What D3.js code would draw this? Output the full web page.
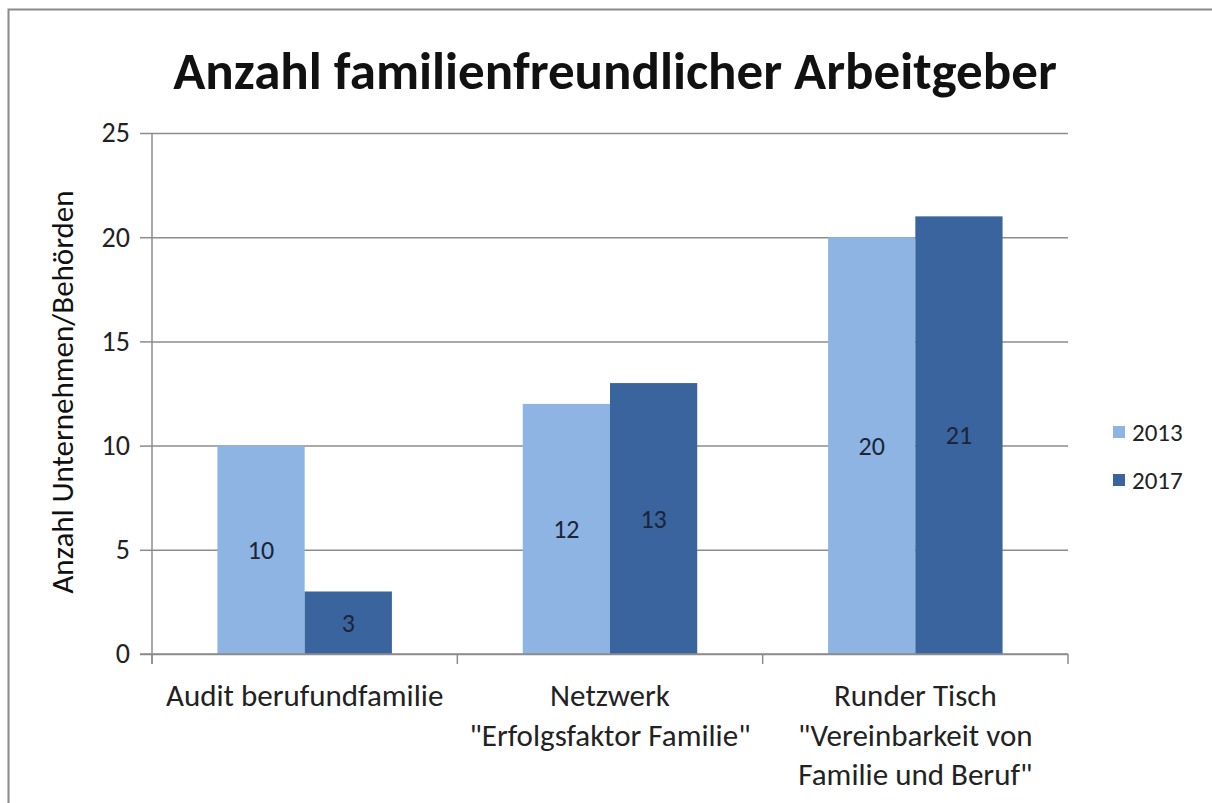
<!DOCTYPE html>
<html>
<head>
<meta charset="utf-8">
<script src="https://cdn.jsdelivr.net/npm/d3@7"></script>
<style>
  body { margin: 0; background: #fff; }
  svg text { font-family: Calibri, Carlito, Lato, "Open Sans", sans-serif; }
</style>
</head>
<body>
<div id="chart"></div>
<script>
const categories = [
  ['Audit berufundfamilie'],
  ['Netzwerk', '"Erfolgsfaktor Familie"'],
  ['Runder Tisch', '"Vereinbarkeit von', 'Familie und Beruf"']
]
const seriesNames = ['2013', '2017']
const values2013 = [10, 12, 20]
const values2017 = [3, 13, 21]
const yTicks = [0, 5, 10, 15, 20, 25]
const title = 'Anzahl familienfreundlicher Arbeitgeber'
const yLabel = 'Anzahl Unternehmen/Behörden'

const W = 1212, H = 803
const margin = { top: 133, right: 144, bottom: 149, left: 152 }
const width = W - margin.left - margin.right
const height = H - margin.top - margin.bottom
const colors = ['#8db4e2', '#3a649d']

const svg = d3.select('#chart').append('svg')
  .attr('width', W).attr('height', H)

// outer frame (top + left edges visible)
svg.append('path')
  .attr('d', `M8.5,${H} V9.5 H${W}`)
  .attr('fill', 'none').attr('stroke', '#8a8a8a').attr('stroke-width', 2)

// clipped caption fragment above the frame
svg.append('text')
  .attr('x', 636).attr('y', -9)
  .attr('text-anchor', 'middle')
  .attr('font-size', 40).attr('font-weight', 'bold')
  .text('g')

const g = svg.append('g')
  .attr('transform', `translate(${margin.left},${margin.top})`)

const catKeys = categories.map((c, i) => i)
const x0 = d3.scaleBand().domain(catKeys).range([0, width]).padding(0)
const x1 = d3.scaleBand().domain(seriesNames).range([0, x0.bandwidth()])
  .paddingInner(0).paddingOuter(0.75)
const y = d3.scaleLinear().domain([0, 25]).range([height, 0])

// gridlines
g.append('g')
  .call(d3.axisLeft(y).tickValues(yTicks).tickSize(-width).tickFormat(''))
  .call(a => a.select('.domain').remove())
  .selectAll('line').attr('stroke', '#8c8c8c').attr('stroke-width', 1.5)

// bars
const rows = catKeys.map(i => ({ i, vals: [values2013[i], values2017[i]] }))
const grp = g.selectAll('.cat').data(rows).enter().append('g')
  .attr('transform', d => `translate(${x0(d.i)},0)`)

grp.selectAll('rect')
  .data(d => d.vals.map((v, k) => ({ k, v })))
  .enter().append('rect')
  .attr('x', d => x1(seriesNames[d.k]))
  .attr('width', x1.bandwidth())
  .attr('y', d => y(d.v))
  .attr('height', d => height - y(d.v))
  .attr('fill', d => colors[d.k])

grp.selectAll('.lbl')
  .data(d => d.vals.map((v, k) => ({ k, v })))
  .enter().append('text')
  .attr('x', d => x1(seriesNames[d.k]) + x1.bandwidth() / 2)
  .attr('y', d => y(d.v / 2))
  .attr('dy', '0.35em')
  .attr('text-anchor', 'middle')
  .attr('font-size', 26)
  .attr('fill', '#1c2438')
  .text(d => d.v)

// y axis
const yAx = g.append('g')
  .call(d3.axisLeft(y).tickValues(yTicks).tickSize(12).tickPadding(10))
yAx.select('.domain').attr('d', `M0,0 V${height + 10}`)
yAx.selectAll('path, line').attr('stroke', '#8c8c8c').attr('stroke-width', 1.5)
yAx.selectAll('text').attr('font-size', 28).attr('fill', '#222')
  .style('font-family', 'Calibri, Carlito, Lato, sans-serif')

// x axis
const xAx = g.append('g').attr('transform', `translate(0,${height})`)
xAx.append('line')
  .attr('x1', -12).attr('x2', width)
  .attr('stroke', '#8c8c8c').attr('stroke-width', 1.5)
xAx.selectAll('.tk')
  .data(catKeys.map(i => x0(i)).concat([x0.range()[1]]))
  .enter().append('line')
  .attr('x1', d => d).attr('x2', d => d)
  .attr('y1', 0).attr('y2', 10)
  .attr('stroke', '#8c8c8c').attr('stroke-width', 1.5)

const catLbl = xAx.selectAll('.cl').data(categories).enter().append('text')
  .attr('text-anchor', 'middle')
  .attr('font-size', 31)
  .attr('fill', '#222')
  .attr('transform', (d, i) => `translate(${x0(i) + x0.bandwidth() / 2},52)`)
catLbl.selectAll('tspan').data(d => d).enter().append('tspan')
  .attr('x', 0).attr('dy', (d, i) => i === 0 ? 0 : 39.5)
  .text(d => d)

// y axis title
svg.append('text')
  .attr('transform', `translate(73,392) rotate(-90)`)
  .attr('text-anchor', 'middle')
  .attr('font-size', 31)
  .attr('fill', '#111')
  .text(yLabel)

// chart title
svg.append('text')
  .attr('x', 615).attr('y', 89)
  .attr('text-anchor', 'middle')
  .attr('font-size', 53).attr('font-weight', 'bold')
  .attr('fill', '#111')
  .text(title)

// legend
const legend = svg.append('g').attr('transform', 'translate(1113,426)')
const li = legend.selectAll('g').data(seriesNames).enter().append('g')
  .attr('transform', (d, i) => `translate(0,${i * 48})`)
li.append('rect').attr('width', 12).attr('height', 12)
  .attr('fill', (d, i) => colors[i])
li.append('text').attr('x', 19).attr('y', 6).attr('dy', '0.35em')
  .attr('font-size', 25).attr('fill', '#222')
  .text(d => d)
</script>
</body>
</html>
